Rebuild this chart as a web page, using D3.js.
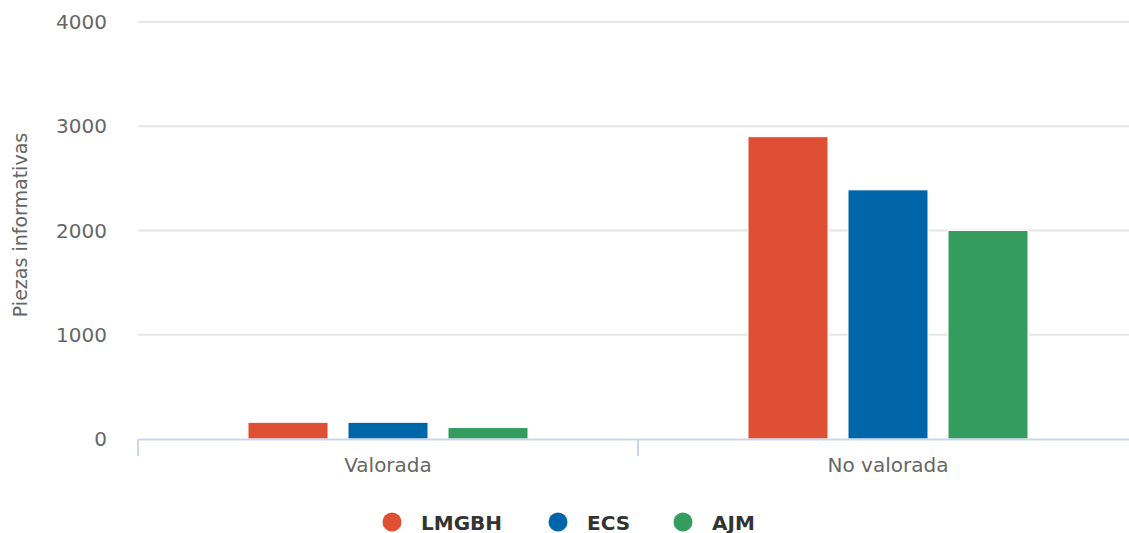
<!DOCTYPE html>
<html>
<head>
<meta charset="utf-8">
<script src="https://cdn.jsdelivr.net/npm/d3@7"></script>
<style>
  body { margin: 0; background: #fff; overflow: hidden; }
  svg { display: block; font-family: "DejaVu Sans", Verdana, sans-serif; }
</style>
</head>
<body>
<svg id="chart" width="1129" height="533"></svg>
<script>
// data
var categories = ["Valorada", "No valorada"];
var seriesNames = ["LMGBH", "ECS", "AJM"];
var seriesColors = ["#de4f33", "#0066aa", "#349c5f"];
var lmgbh = [160, 2900];
var ecs = [160, 2390];
var ajm = [110, 2000];
var yTicks = [0, 1000, 2000, 3000, 4000];
var yTitle = "Piezas informativas";

var seriesValues = [lmgbh, ecs, ajm];

var svg = d3.select("#chart");
// plot area (runs a bit past the right edge, like the original)
var plotLeft = 138, plotRight = 1138, plotTop = 22, plotBottom = 439;

var x = d3.scaleBand().domain(categories).range([plotLeft, plotRight]);
var y = d3.scaleLinear().domain([0, 4000]).range([plotBottom, plotTop]);

// gridlines
svg.append("g").selectAll("line")
  .data(yTicks.filter(function (t) { return t > 0; }))
  .enter().append("line")
  .attr("x1", plotLeft).attr("x2", plotRight)
  .attr("y1", function (t) { return y(t); })
  .attr("y2", function (t) { return y(t); })
  .attr("stroke", "#e6e6e6").attr("stroke-width", 2);

// y labels
svg.append("g").selectAll("text")
  .data(yTicks)
  .enter().append("text")
  .attr("x", 107)
  .attr("y", function (t) { return y(t) + 7; })
  .attr("text-anchor", "end")
  .attr("font-size", 20)
  .attr("fill", "#666")
  .text(function (t) { return t; });

svg.append("text")
  .attr("transform", "translate(27,225) rotate(-90)")
  .attr("text-anchor", "middle")
  .attr("font-size", 19)
  .attr("fill", "#666")
  .text(yTitle);

// bars
var groupPad = 0.2, pointPad = 0.1;
categories.forEach(function (cat, ci) {
  var bw = x.bandwidth();
  var g0 = x(cat) + bw * groupPad;
  var slot = bw * (1 - 2 * groupPad) / seriesNames.length;
  seriesValues.forEach(function (vals, si) {
    svg.append("rect")
      .attr("x", g0 + slot * si + slot * pointPad)
      .attr("y", y(vals[ci]))
      .attr("width", slot * (1 - 2 * pointPad))
      .attr("height", plotBottom - y(vals[ci]))
      .attr("fill", seriesColors[si])
      .attr("stroke", "#fff").attr("stroke-width", 1);
  });
});

// x axis
svg.append("line")
  .attr("x1", plotLeft).attr("x2", plotRight)
  .attr("y1", plotBottom + 0.5).attr("y2", plotBottom + 0.5)
  .attr("stroke", "#ccd6eb").attr("stroke-width", 2);

svg.append("g").selectAll("line")
  .data(categories)
  .enter().append("line")
  .attr("x1", function (c) { return x(c); })
  .attr("x2", function (c) { return x(c); })
  .attr("y1", plotBottom).attr("y2", plotBottom + 17)
  .attr("stroke", "#ccd6eb").attr("stroke-width", 2);

svg.append("g").selectAll("text")
  .data(categories)
  .enter().append("text")
  .attr("x", function (c) { return x(c) + x.bandwidth() / 2; })
  .attr("y", 472)
  .attr("text-anchor", "middle")
  .attr("font-size", 20)
  .attr("fill", "#666")
  .text(function (c) { return c; });

// legend
var legendX = [392, 558, 683];
var leg = svg.append("g").selectAll("g")
  .data(seriesNames)
  .enter().append("g")
  .attr("transform", function (d, i) { return "translate(" + legendX[i] + ",522)"; });

leg.append("circle")
  .attr("r", 9.5)
  .attr("fill", function (d, i) { return seriesColors[i]; });

leg.append("text")
  .attr("x", 29)
  .attr("y", 7.5)
  .attr("font-size", 20)
  .attr("font-weight", "bold")
  .attr("fill", "#333")
  .text(function (d) { return d; });
</script>
</body>
</html>
